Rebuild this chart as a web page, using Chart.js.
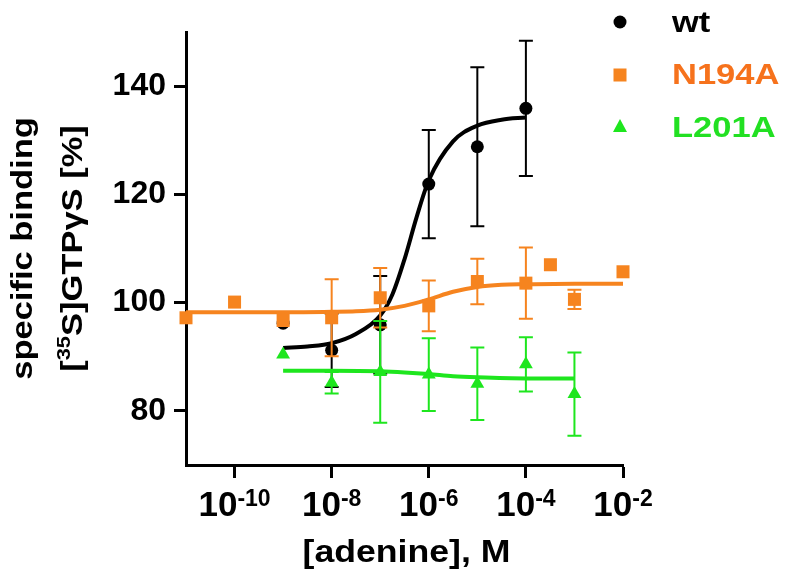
<!DOCTYPE html>
<html>
<head>
<meta charset="utf-8">
<script src="https://cdn.jsdelivr.net/npm/chart.js@4.4.0/dist/chart.umd.min.js"></script>
<style>
  html, body { margin: 0; padding: 0; background: #fff; }
  #wrap { width: 786px; height: 573px; }
</style>
</head>
<body>
<div id="wrap"><canvas id="c"></canvas></div>
<script>
var wtConc = [1e-9, 1e-8, 1e-7, 1e-6, 1e-5, 1e-4];
var wtMean = [96.2, 91.2, 95.9, 121.9, 128.8, 135.9];
var wtErr  = [0, 6.8, 9.0, 10.0, 14.7, 12.5];

var n194Conc = [1e-11, 1e-10, 1e-9, 1e-8, 1e-7, 1e-6, 1e-5, 1e-4, 3.2e-4, 1e-3, 1e-2];
var n194Mean = [97.2, 100.1, 96.7, 97.2, 100.9, 99.4, 103.9, 103.6, 107.0, 100.6, 105.7];
var n194Err  = [0, 0, 0, 7.1, 5.5, 4.7, 4.2, 6.6, 0, 1.8, 0];

var l201Conc = [1e-9, 1e-8, 1e-7, 1e-6, 1e-5, 1e-4, 1e-3];
var l201Mean = [90.4, 85.2, 87.2, 86.7, 85.0, 88.6, 83.1];
var l201Err  = [0, 2.0, 9.4, 6.7, 6.7, 5.0, 7.7];

// fitted curves
var wtFitConc = [1e-9, 3.16e-9, 1e-8, 3.16e-8, 1e-7, 1.78e-7, 3.16e-7, 5.62e-7, 1e-6, 3.16e-6, 1e-5, 3.16e-5, 1e-4];
var wtFit     = [91.6, 91.9, 92.5, 94.2, 97.6, 101.5, 108.0, 115.8, 122.6, 129.8, 132.7, 133.8, 134.2];

var n194FitConc = [1e-11, 1e-9, 1e-8, 3.16e-8, 1e-7, 3.16e-7, 1e-6, 3.16e-6, 1e-5, 3.16e-5, 1e-4, 1e-3, 1e-2];
var n194Fit     = [98.2, 98.2, 98.3, 98.4, 98.7, 99.4, 100.6, 102.0, 102.9, 103.3, 103.4, 103.5, 103.5];

var l201FitConc = [1e-9, 1e-8, 1e-7, 3.16e-7, 1e-6, 3.16e-6, 1e-5, 1e-4, 1e-3];
var l201Fit     = [87.4, 87.4, 87.3, 87.1, 86.8, 86.4, 86.2, 86.0, 86.0];

var xTicks = [1e-10, 1e-8, 1e-6, 1e-4, 1e-2];
var xTickSup = ['-10', '-8', '-6', '-4', '-2'];
var yTicks = [80, 100, 120, 140];

var labels = ['wt', 'N194A', 'L201A'];
var colWt = '#000000', colN = '#f6841f', colL = '#1ee61e';
var textCols = ['#000000', '#f6721c', '#22e022'];

var FONT = "'Liberation Sans', Arial, sans-serif";

function pts(xs, ys) {
  return xs.map(function (x, i) { return { x: x, y: ys[i] }; });
}

function curve(xs, ys, color, order) {
  return {
    data: pts(xs, ys), borderColor: color, borderWidth: 4, pointRadius: 0,
    cubicInterpolationMode: 'monotone', fill: false, clip: false, order: order
  };
}

function marks(xs, ys, errs, color, style, r, order) {
  return {
    data: pts(xs, ys), errors: errs, showLine: false, pointStyle: style,
    pointRadius: r, backgroundColor: color, borderColor: color, borderWidth: 0,
    clip: false, order: order
  };
}

// draws pieces of text, each with its own size and baseline shift
function richWidth(ctx, parts, sx) {
  var w = 0;
  parts.forEach(function (p) {
    ctx.font = 'bold ' + p.size + 'px ' + FONT;
    w += ctx.measureText(p.t).width * (p.sx || sx);
  });
  return w;
}
function drawRich(ctx, parts, x, y, sx) {
  parts.forEach(function (p) {
    var s = p.sx || sx;
    ctx.font = 'bold ' + p.size + 'px ' + FONT;
    ctx.save();
    ctx.translate(x, y - (p.rise || 0));
    ctx.scale(s, 1);
    ctx.fillText(p.t, 0, 0);
    ctx.restore();
    x += ctx.measureText(p.t).width * s;
  });
}

var errorBars = {
  id: 'errorBars',
  beforeDatasetDraw: function (chart, args) {
    var ds = chart.data.datasets[args.index];
    if (!ds.errors) return;
    var ctx = chart.ctx, xs = chart.scales.x, ys = chart.scales.y;
    ctx.save();
    ctx.strokeStyle = ds.borderColor;
    ctx.lineWidth = 2;
    ds.data.forEach(function (p, i) {
      var e = ds.errors[i];
      if (!e) return;
      var px = xs.getPixelForValue(p.x);
      var t = ys.getPixelForValue(p.y + e), b = ys.getPixelForValue(p.y - e);
      ctx.beginPath();
      ctx.moveTo(px, t); ctx.lineTo(px, b);
      ctx.moveTo(px - 7, t); ctx.lineTo(px + 7, t);
      ctx.moveTo(px - 7, b); ctx.lineTo(px + 7, b);
      ctx.stroke();
    });
    ctx.restore();
  }
};

var texts = {
  id: 'texts',
  afterDraw: function (chart) {
    var ctx = chart.ctx, xs = chart.scales.x, area = chart.chartArea;
    ctx.save();
    ctx.fillStyle = '#000';
    ctx.textBaseline = 'alphabetic';
    ctx.textAlign = 'left';

    // x tick labels 10^n
    xTicks.forEach(function (v, i) {
      var parts = [{ t: '10', size: 35, sx: 1 }, { t: xTickSup[i], size: 23, rise: 10, sx: 1 }];
      var w = richWidth(ctx, parts, 1);
      drawRich(ctx, parts, xs.getPixelForValue(v) - w / 2, 516, 1);
    });

    // x title
    var xt = [{ t: '[adenine], M', size: 31 }];
    var xw = richWidth(ctx, xt, 1.15);
    drawRich(ctx, xt, (area.left + area.right) / 2 - xw / 2 + 2, 562, 1.15);

    // y title, two rotated lines
    var cy = (area.top + area.bottom) / 2;
    var l1 = [{ t: 'specific binding', size: 30 }];
    var l2 = [{ t: '[', size: 30 }, { t: '35', size: 19, rise: 12 }, { t: 'S]GTP\u03b3S [%]', size: 30 }];
    [[l1, 32], [l2, 82]].forEach(function (l) {
      ctx.save();
      ctx.translate(l[1], cy);
      ctx.rotate(-Math.PI / 2);
      var w = richWidth(ctx, l[0], 1.15);
      drawRich(ctx, l[0], -w / 2, 0, 1.15);
      ctx.restore();
    });

    // legend
    var ly = [22, 75, 127], lb = [32, 84, 137];
    var mx = 620;
    ctx.fillStyle = colWt;
    ctx.beginPath(); ctx.arc(mx, ly[0], 6.5, 0, Math.PI * 2); ctx.fill();
    ctx.fillStyle = colN;
    ctx.fillRect(mx - 6.5, ly[1] - 6.5, 13, 13);
    ctx.fillStyle = colL;
    ctx.beginPath();
    ctx.moveTo(mx, ly[2] - 8); ctx.lineTo(mx + 7, ly[2] + 5); ctx.lineTo(mx - 7, ly[2] + 5);
    ctx.closePath(); ctx.fill();
    labels.forEach(function (s, i) {
      ctx.fillStyle = textCols[i];
      drawRich(ctx, [{ t: s, size: 30 }], 672, lb[i], 1.15);
    });
    ctx.restore();
  }
};

new Chart(document.getElementById('c'), {
  type: 'line',
  data: {
    datasets: [
      marks(l201Conc, l201Mean, l201Err, colL, 'triangle', 8, 1),
      curve(l201FitConc, l201Fit, colL, 2),
      marks(n194Conc, n194Mean, n194Err, colN, 'rect', 9.2, 3),
      curve(n194FitConc, n194Fit, colN, 4),
      marks(wtConc, wtMean, wtErr, colWt, 'circle', 6.5, 5),
      curve(wtFitConc, wtFit, colWt, 6)
    ]
  },
  options: {
    responsive: true,
    maintainAspectRatio: false,
    animation: false,
    layout: { padding: { left: 0, right: 163, top: 32, bottom: 0 } },
    plugins: { legend: { display: false }, tooltip: { enabled: false } },
    scales: {
      x: {
        type: 'logarithmic',
        min: 1e-11,
        max: 1e-2,
        afterBuildTicks: function (s) { s.ticks = xTicks.map(function (v) { return { value: v }; }); },
        afterFit: function (s) { s.height = 108; },
        ticks: { display: false },
        grid: { drawOnChartArea: false, tickLength: 13, tickWidth: 3, tickColor: '#000' },
        border: { color: '#000', width: 3 }
      },
      y: {
        min: 70,
        max: 150,
        afterBuildTicks: function (s) { s.ticks = yTicks.map(function (v) { return { value: v }; }); },
        afterFit: function (s) { s.width = 186; },
        ticks: { color: '#000', padding: 8, font: { family: FONT, size: 32, weight: 'bold' } },
        grid: { drawOnChartArea: false, tickLength: 12, tickWidth: 3, tickColor: '#000' },
        border: { color: '#000', width: 3 }
      }
    }
  },
  plugins: [errorBars, texts]
});
</script>
</body>
</html>
